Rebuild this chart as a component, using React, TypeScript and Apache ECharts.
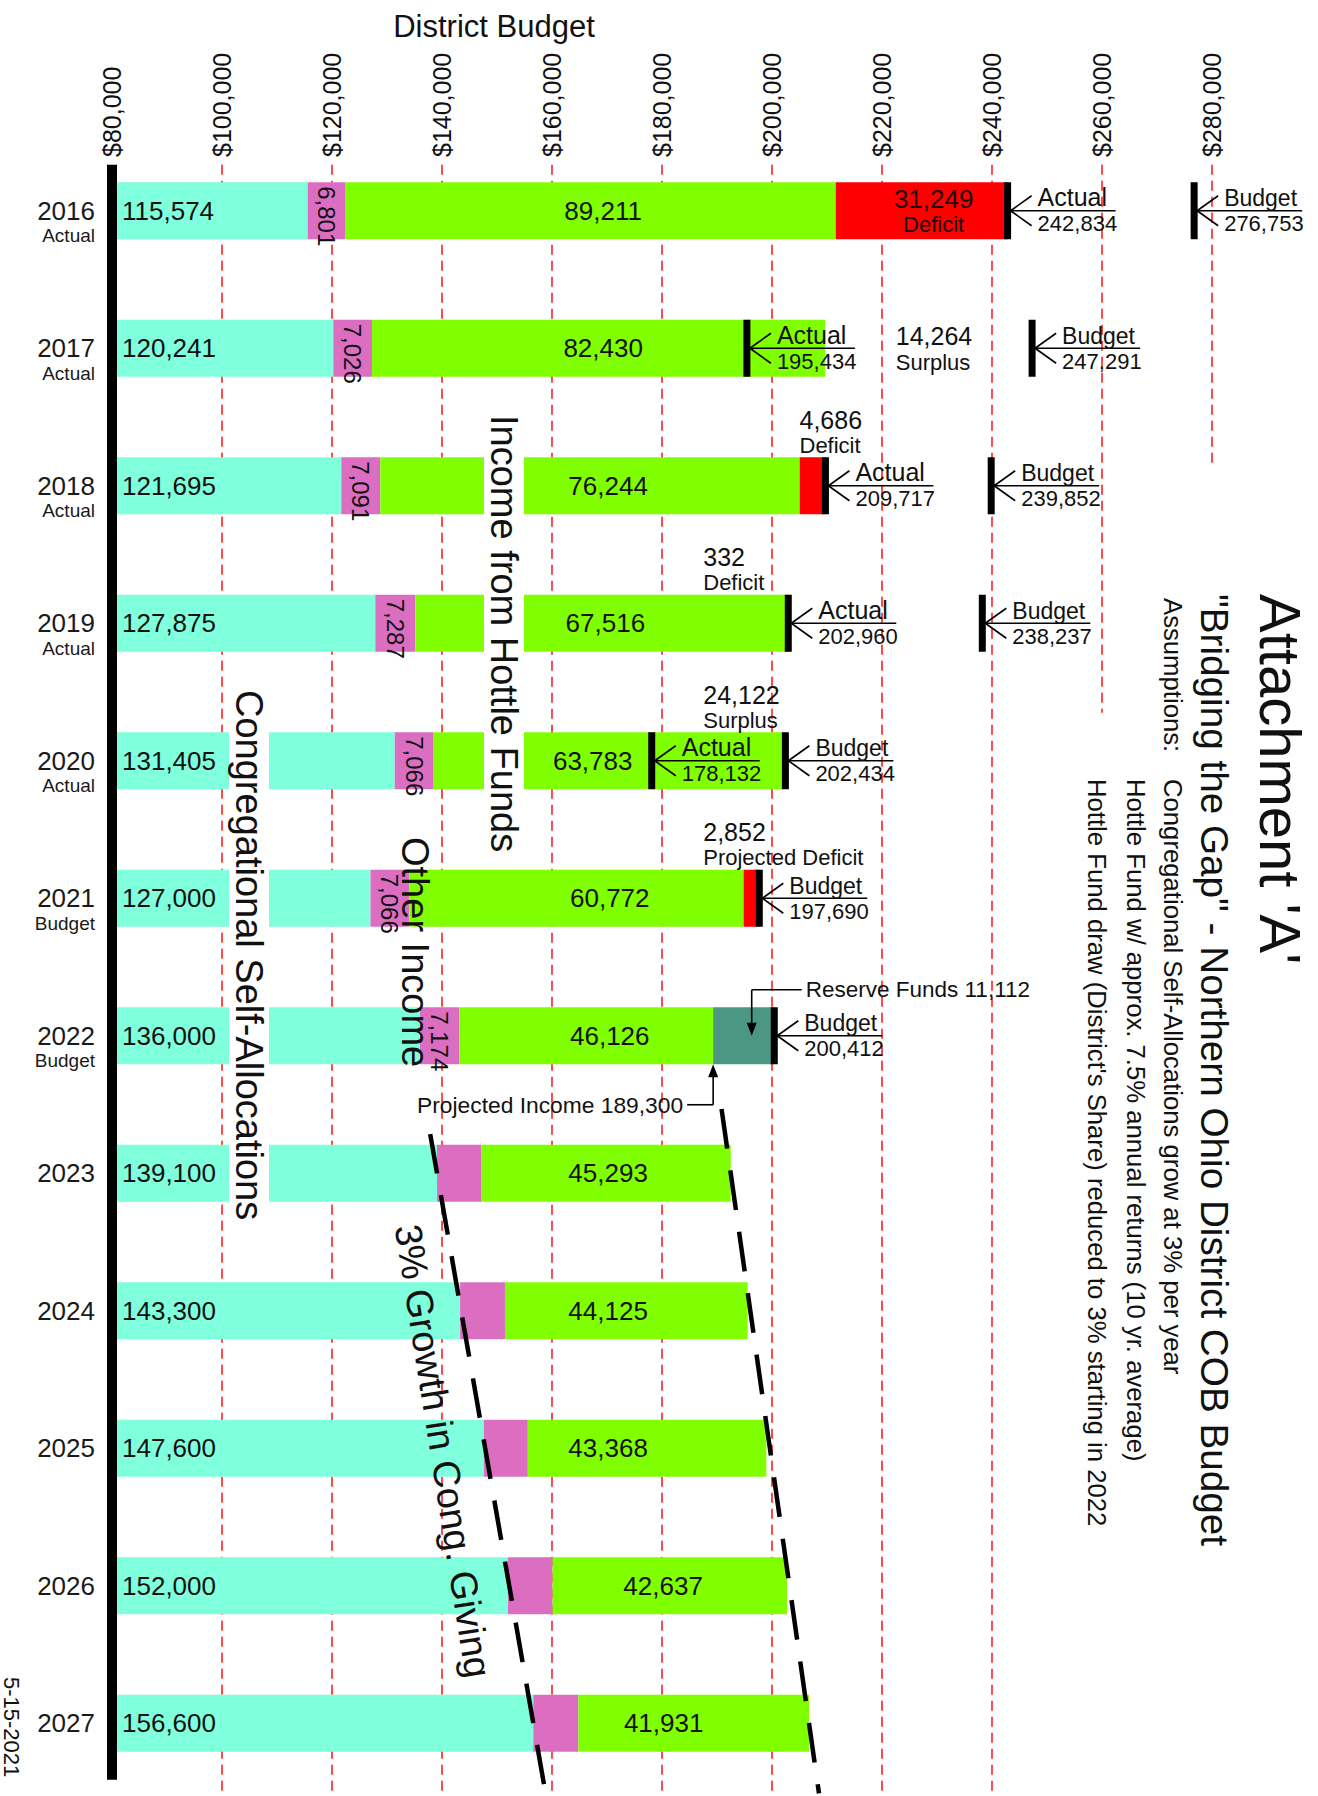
import React, { useEffect, useRef } from 'react';
import * as echarts from 'echarts';

const FONT = '"Liberation Sans", Arial, Helvetica, sans-serif';

// ---------------- data ----------------
const years = ['2016', '2017', '2018', '2019', '2020', '2021', '2022', '2023', '2024', '2025', '2026', '2027'];
const yearStatus = ['Actual', 'Actual', 'Actual', 'Actual', 'Actual', 'Budget', 'Budget', '', '', '', '', ''];
const congregational = [115574, 120241, 121695, 127875, 131405, 127000, 136000, 139100, 143300, 147600, 152000, 156600];
const otherIncome = [6801, 7026, 7091, 7287, 7066, 7066, 7174, 8100, 8150, 8000, 8100, 8200];
const otherIncomeLabeled = [true, true, true, true, true, true, true, false, false, false, false, false];
const hottleIncome = [89211, 82430, 76244, 67516, 63783, 60772, 46126, 45293, 44125, 43368, 42637, 41931];
// where (in $) each Hottle value label is centred in the reference
const hottleLabelAt = [169300, 169300, 170200, 169700, 167400, 170500, 170500, 170200, 170200, 170200, 180200, 180300];
const deficit = [31249, null, 4686, 332, null, 2852, null, null, null, null, null, null];
const reserveFunds = [null, null, null, null, null, null, 11112, null, null, null, null, null];
const actualTotals = [242834, 195434, 209717, 202960, 178132, null, null, null, null, null, null, null];
const budgetTotals = [276753, 247291, 239852, 238237, 202434, 197690, 200412, null, null, null, null, null];
const xTickValues = [100000, 120000, 140000, 160000, 180000, 200000, 220000, 240000, 260000, 280000];

const balanceNotes = [
  { cat: 1, amount: 14264, kind: 'Surplus', anchor: 222500, place: 'side' },
  { cat: 2, amount: 4686, kind: 'Deficit', anchor: 205000, place: 'above' },
  { cat: 3, amount: 332, kind: 'Deficit', anchor: 187500, place: 'above' },
  { cat: 4, amount: 24122, kind: 'Surplus', anchor: 187500, place: 'above' },
  { cat: 5, amount: 2852, kind: 'Projected Deficit', anchor: 187500, place: 'above' },
];

const reserveYear = 6;
const growthFrom = 7;
const growthTo = 11;

// ---------------- helpers ----------------
const fmt = (n: number) => String(Math.round(n)).replace(/\B(?=(\d{3})+(?!\d))/g, ',');
const BAR_H = 57;

const markerList: { value: number; cat: number; kind: string }[] = [];
actualTotals.forEach((v, i) => { if (v != null) markerList.push({ value: v, cat: i, kind: 'Actual' }); });
budgetTotals.forEach((v, i) => { if (v != null) markerList.push({ value: v, cat: i, kind: 'Budget' }); });

const totals = congregational.map((c, i) => c + otherIncome[i] + hottleIncome[i]);
const growthLines = [
  { va: congregational[growthFrom], vb: congregational[growthTo], start: -0.285, end: 0.51 },
  { va: totals[growthFrom], vb: totals[growthTo], start: -0.467, end: 0.51 },
];

const shortGridEnd: Record<number, number> = { 260000: 3.65, 280000: 1.84 };

function txt(x: number, y: number, text: string, fontSize: number, extra: any = {}) {
  return {
    type: 'text',
    x,
    y,
    z: 50,
    silent: true,
    style: { text, fontSize, fontFamily: FONT, fill: '#111', align: 'left', verticalAlign: 'middle', ...extra },
  };
}

function buildOption() {
  const rot = -Math.PI / 2;
  return {
    animation: false,
    textStyle: { fontFamily: FONT },
    grid: { left: 112, right: 106, top: 142, bottom: 4, containLabel: false },
    xAxis: {
      type: 'value',
      position: 'top',
      min: 80000,
      max: 280000,
      interval: 20000,
      offset: -16,
      axisLine: { show: false },
      axisTick: { show: false },
      splitLine: { show: false },
      axisLabel: {
        rotate: -90,
        margin: 1,
        fontSize: 25,
        color: '#111',
        fontFamily: FONT,
        formatter: (v: number) => '$' + fmt(v),
      },
    },
    yAxis: {
      type: 'category',
      inverse: true,
      data: years,
      axisLine: { show: false },
      axisTick: { show: false },
      axisLabel: {
        margin: 17,
        fontFamily: FONT,
        formatter: (v: string, i: number) =>
          yearStatus[i] ? `{p| }\n{y|${v}}\n{s|${yearStatus[i]}}` : `{y|${v}}`,
        rich: {
          p: { fontSize: 19, lineHeight: 22, align: 'right' },
          y: { fontSize: 26, lineHeight: 28, color: '#1a1a1a', align: 'right', fontFamily: FONT },
          s: { fontSize: 19, lineHeight: 22, color: '#1a1a1a', align: 'right', fontFamily: FONT },
        },
      },
    },
    series: [
      // red dashed grid lines
      {
        type: 'custom',
        name: 'grid',
        z: 1,
        clip: false,
        silent: true,
        encode: { x: 0, y: 1 },
        data: xTickValues.map((v) => [v, 0]),
        renderItem: (params: any, api: any) => {
          const v = xTickValues[params.dataIndex];
          const p = api.coord([v, 0]);
          const band = api.size([0, 1])[1];
          const end = shortGridEnd[v] != null ? shortGridEnd[v] : 11.56;
          return {
            type: 'line',
            shape: { x1: p[0], y1: p[1] - 0.335 * band, x2: p[0], y2: p[1] + end * band },
            style: { stroke: '#ff1f1f', lineWidth: 1.6, lineDash: [10, 6] },
          };
        },
      },
      {
        type: 'bar',
        name: 'Congregational Self-Allocations',
        stack: 'total',
        barWidth: BAR_H,
        z: 2,
        data: congregational,
        itemStyle: { color: '#7fffdc' },
        label: {
          show: true,
          position: 'insideLeft',
          distance: 10,
          fontSize: 26,
          color: '#111',
          fontFamily: FONT,
          formatter: (p: any) => fmt(p.value),
        },
      },
      {
        type: 'bar',
        name: 'Other Income',
        stack: 'total',
        barWidth: BAR_H,
        z: 2,
        data: otherIncome.map((v, i) => ({ value: v, label: { show: otherIncomeLabeled[i] } })),
        itemStyle: { color: '#dc6ec2' },
        label: {
          show: true,
          position: 'insideTop',
          distance: 4,
          rotate: -90,
          align: 'left',
          verticalAlign: 'middle',
          fontSize: 24,
          color: '#111',
          fontFamily: FONT,
          formatter: (p: any) => fmt(p.value),
        },
      },
      {
        type: 'bar',
        name: 'Income from Hottle Funds',
        stack: 'total',
        barWidth: BAR_H,
        z: 2,
        data: hottleIncome,
        itemStyle: { color: '#80ff00' },
      },
      {
        type: 'bar',
        name: 'Deficit',
        stack: 'total',
        barWidth: BAR_H,
        z: 2,
        data: deficit.map((v, i) => (v == null ? null : { value: v, label: { show: i === 0 } })),
        itemStyle: { color: '#ff0000' },
        label: {
          show: false,
          position: 'inside',
          offset: [12, 0],
          fontFamily: FONT,
          formatter: (p: any) => `{a|${fmt(p.value)}}\n{b|Deficit}`,
          rich: {
            a: { fontSize: 26, lineHeight: 27, color: '#220000', fontFamily: FONT },
            b: { fontSize: 22, lineHeight: 24, color: '#220000', fontFamily: FONT },
          },
        },
      },
      {
        type: 'bar',
        name: 'Reserve Funds',
        stack: 'total',
        barWidth: BAR_H,
        z: 2,
        data: reserveFunds,
        itemStyle: { color: '#4c9684' },
      },
      // Hottle value labels
      {
        type: 'custom',
        name: 'hottleLabels',
        z: 4,
        clip: false,
        silent: true,
        encode: { x: 0, y: 1 },
        data: hottleIncome.map((v, i) => [hottleLabelAt[i], i]),
        renderItem: (params: any, api: any) => {
          const i = params.dataIndex;
          const p = api.coord([hottleLabelAt[i], i]);
          return {
            type: 'text',
            x: p[0],
            y: p[1],
            style: {
              text: fmt(hottleIncome[i]),
              fontSize: 26,
              fontFamily: FONT,
              fill: '#111',
              align: 'center',
              verticalAlign: 'middle',
            },
          };
        },
      },
      // thick black axis bar
      {
        type: 'custom',
        name: 'axisbar',
        z: 6,
        clip: false,
        silent: true,
        encode: { x: 0, y: 1 },
        data: [[80000, 0]],
        renderItem: (params: any, api: any) => {
          const p = api.coord([80000, 0]);
          const band = api.size([0, 1])[1];
          const y0 = p[1] - 0.335 * band;
          const y1 = p[1] + 11.41 * band;
          return { type: 'rect', shape: { x: p[0] - 5, y: y0, width: 10, height: y1 - y0 }, style: { fill: '#000' } };
        },
      },
      // Actual / Budget markers
      {
        type: 'custom',
        name: 'markers',
        z: 7,
        clip: false,
        silent: true,
        encode: { x: 0, y: 1 },
        data: markerList.map((m) => [m.value, m.cat]),
        renderItem: (params: any, api: any) => {
          const m = markerList[params.dataIndex];
          const p = api.coord([m.value, m.cat]);
          const x = p[0];
          const cy = p[1];
          const ls = { stroke: '#000', lineWidth: 1.6 };
          return {
            type: 'group',
            children: [
              { type: 'rect', shape: { x: x - 3.5, y: cy - BAR_H / 2, width: 7, height: BAR_H }, style: { fill: '#000' } },
              { type: 'line', shape: { x1: x, y1: cy, x2: x + 108, y2: cy }, style: ls },
              { type: 'line', shape: { x1: x + 3, y1: cy, x2: x + 24, y2: cy - 15 }, style: ls },
              { type: 'line', shape: { x1: x + 3, y1: cy, x2: x + 24, y2: cy + 15 }, style: ls },
              {
                type: 'text',
                x: x + 30,
                y: cy - 1,
                style: {
                  text: m.kind,
                  fontSize: m.kind === 'Actual' ? 25 : 23,
                  fontFamily: FONT,
                  fill: '#111',
                  align: 'left',
                  verticalAlign: 'bottom',
                },
              },
              {
                type: 'text',
                x: x + 30,
                y: cy + 2,
                style: { text: fmt(m.value), fontSize: 22, fontFamily: FONT, fill: '#111', align: 'left', verticalAlign: 'top' },
              },
            ],
          };
        },
      },
      // surplus / deficit notes
      {
        type: 'custom',
        name: 'notes',
        z: 7,
        clip: false,
        silent: true,
        encode: { x: 0, y: 1 },
        data: balanceNotes.map((n) => [n.anchor, n.cat]),
        renderItem: (params: any, api: any) => {
          const n = balanceNotes[params.dataIndex];
          const p = api.coord([n.anchor, n.cat]);
          const x = p[0];
          let numBottom: number;
          let kindTop: number;
          if (n.place === 'above') {
            const yb = p[1] - BAR_H / 2 - 1;
            kindTop = yb - 22;
            numBottom = kindTop - 2;
          } else {
            numBottom = p[1];
            kindTop = p[1] + 3;
          }
          return {
            type: 'group',
            children: [
              {
                type: 'text',
                x,
                y: numBottom,
                style: { text: fmt(n.amount), fontSize: 25, fontFamily: FONT, fill: '#111', align: 'left', verticalAlign: 'bottom' },
              },
              {
                type: 'text',
                x,
                y: kindTop,
                style: { text: n.kind, fontSize: 22, fontFamily: FONT, fill: '#111', align: 'left', verticalAlign: 'top' },
              },
            ],
          };
        },
      },
      // reserve funds & projected income call-outs
      {
        type: 'custom',
        name: 'reserve',
        z: 7,
        clip: false,
        silent: true,
        encode: { x: 0, y: 1 },
        data: [[totals[reserveYear], reserveYear]],
        renderItem: (params: any, api: any) => {
          const projected = totals[reserveYear];
          const reserve = reserveFunds[reserveYear] as number;
          const pr = api.coord([projected + reserve / 2, reserveYear]);
          const pp = api.coord([projected, reserveYear]);
          const xr = pr[0] + 8;
          const cy = pr[1];
          const xp = pp[0];
          const ls = { stroke: '#000', lineWidth: 1.6 };
          const yR = cy - 46;
          const yP = cy + 69;
          const bb = cy + BAR_H / 2;
          return {
            type: 'group',
            children: [
              { type: 'line', shape: { x1: xr, y1: yR, x2: xr + 50, y2: yR }, style: ls },
              { type: 'line', shape: { x1: xr, y1: yR, x2: xr, y2: cy - 10 }, style: ls },
              { type: 'polygon', shape: { points: [[xr, cy], [xr - 5, cy - 13], [xr + 5, cy - 13]] }, style: { fill: '#000' } },
              {
                type: 'text',
                x: xr + 54,
                y: yR,
                style: {
                  text: 'Reserve Funds ' + fmt(reserve),
                  fontSize: 22.5,
                  fontFamily: FONT,
                  fill: '#111',
                  align: 'left',
                  verticalAlign: 'middle',
                },
              },
              { type: 'line', shape: { x1: xp - 26, y1: yP, x2: xp, y2: yP }, style: ls },
              { type: 'line', shape: { x1: xp, y1: yP, x2: xp, y2: bb + 10 }, style: ls },
              { type: 'polygon', shape: { points: [[xp, bb], [xp - 5, bb + 13], [xp + 5, bb + 13]] }, style: { fill: '#000' } },
              {
                type: 'text',
                x: xp - 30,
                y: yP,
                style: {
                  text: 'Projected Income ' + fmt(projected),
                  fontSize: 22.8,
                  fontFamily: FONT,
                  fill: '#111',
                  align: 'right',
                  verticalAlign: 'middle',
                },
              },
            ],
          };
        },
      },
      // 3% growth dashed guide lines
      {
        type: 'custom',
        name: 'growth',
        z: 8,
        clip: false,
        silent: true,
        encode: { x: 0, y: 1 },
        data: growthLines.map((g) => [g.va, growthFrom]),
        renderItem: (params: any, api: any) => {
          const g = growthLines[params.dataIndex];
          const band = api.size([0, 1])[1];
          const y0 = api.coord([80000, 0])[1];
          const span = growthTo - growthFrom;
          const c1 = growthFrom + g.start;
          const c2 = growthTo + g.end;
          const v1 = g.va + ((g.vb - g.va) * (c1 - growthFrom)) / span;
          const v2 = g.va + ((g.vb - g.va) * (c2 - growthFrom)) / span;
          const x1 = api.coord([v1, 0])[0];
          const x2 = api.coord([v2, 0])[0];
          return {
            type: 'line',
            shape: { x1, y1: y0 + c1 * band, x2, y2: y0 + c2 * band },
            style: { stroke: '#000', lineWidth: 4.5, lineDash: [40, 22] },
          };
        },
      },
    ],
    graphic: [
      txt(494, 26, 'District Budget', 31, { align: 'center' }),
      { ...txt(249, 688, 'Congregational Self-Allocations', 38, { backgroundColor: '#fff', lineHeight: 40, padding: [0, 2] }), rotation: rot },
      { ...txt(504, 413, 'Income from Hottle Funds', 38, { backgroundColor: '#fff', lineHeight: 40, padding: [0, 2] }), rotation: rot },
      { ...txt(415, 837, 'Other Income', 38), rotation: rot },
      { ...txt(443, 1451, '3% Growth in Cong. Giving', 38, { align: 'center' }), rotation: -(81 * Math.PI) / 180 },
      { ...txt(1280, 594, "Attachment 'A'", 58), rotation: rot },
      { ...txt(1214, 594, '"Bridging the Gap" - Northern Ohio District COB Budget', 38.7), rotation: rot },
      { ...txt(1173, 598, 'Assumptions:', 25.7), rotation: rot },
      { ...txt(1173, 779, 'Congregational Self-Allocations grow at 3% per year', 25.7), rotation: rot },
      { ...txt(1136, 779, 'Hottle Fund w/ approx. 7.5% annual returns (10 yr. average)', 25.7), rotation: rot },
      { ...txt(1097, 779, "Hottle Fund draw (District's Share) reduced to 3% starting in 2022", 25.7), rotation: rot },
      { ...txt(11, 1677, '5-15-2021', 22), rotation: rot },
    ],
  };
}

export default function App() {
  const ref = useRef<HTMLDivElement>(null);
  useEffect(() => {
    if (!ref.current) return;
    const chart = echarts.init(ref.current, null, { renderer: 'svg' });
    chart.setOption(buildOption() as any);
    return () => chart.dispose();
  }, []);
  return (
    <div
      ref={ref}
      style={{ position: 'absolute', left: 0, top: 0, width: 1318, height: 1796, background: '#fff' }}
    />
  );
}
